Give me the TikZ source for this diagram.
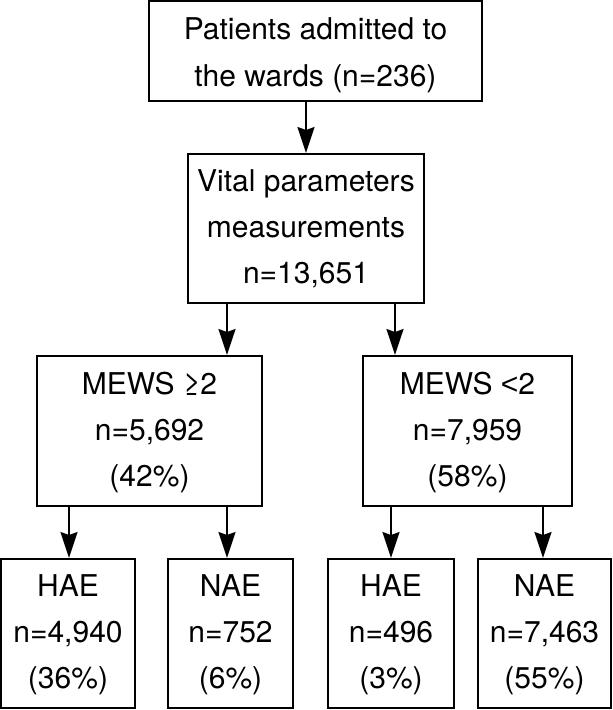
\documentclass[tikz,border=0pt]{standalone}
\usepackage{fontspec}
\setmainfont{TeX Gyre Heros}
\newfontfamily\libsans{Liberation Sans}
\usetikzlibrary{arrows.meta}
\newcommand{\mystrut}{\rule[-14pt]{0pt}{46pt}}
\newcommand{\topstrut}{\rule[-12pt]{0pt}{47pt}}
\begin{document}
\begin{tikzpicture}[x=1pt,y=-1pt,
  box/.style={draw, line width=2pt, inner sep=0pt, align=center,
    font=\fontsize{30}{46}\selectfont, anchor=center},
  arr/.style={line width=1.6pt, -{Stealth[length=26pt,width=17pt,inset=3pt]}}]
\useasboundingbox (0,0) rectangle (613,710);

\node[box, font=\fontsize{30}{47}\selectfont, minimum width=333pt, minimum height=100pt] (b1) at (315.5,51)
  {\topstrut Patients admitted to\\\topstrut the wards (n=236)};
\node[box, minimum width=236pt, minimum height=149pt] (b2) at (306,228.5)
  {\mystrut Vital parameters\\\mystrut measurements\\\mystrut n=13,651};
\node[box, minimum width=225pt, minimum height=150pt] (b3) at (149.5,431)
  {\mystrut MEWS ≥2\\\mystrut n=5,692\\\mystrut (42\%)};
\node[box, minimum width=209pt, minimum height=150pt] (b4) at (467.5,431)
  {\mystrut MEWS {\libsans <}2\\\mystrut n=7,959\\\mystrut (58\%)};
\node[box, minimum width=134pt, minimum height=149pt] (h1) at (68,633.5)
  {\mystrut HAE\\\mystrut n=4,940\\\mystrut (36\%)};
\node[box, minimum width=125pt, minimum height=149pt] (n1) at (230.5,633.5)
  {\mystrut NAE\\\mystrut n=752\\\mystrut (6\%)};
\node[box, minimum width=126pt, minimum height=149pt] (h2) at (391,633.5)
  {\mystrut HAE\\\mystrut n=496\\\mystrut (3\%)};
\node[box, minimum width=133pt, minimum height=149pt] (n2) at (544.5,633.5)
  {\mystrut NAE\\\mystrut n=7,463\\\mystrut (55\%)};

\coordinate (xa) at (227,0);
\coordinate (xb) at (395,0);
\coordinate (xc) at (69,0);
\coordinate (xd) at (227,0);
\coordinate (xe) at (391,0);
\coordinate (xf) at (543,0);

\draw[arr] (b1.south -| b2.north) -- (b2.north);
\draw[arr] (b2.south -| xa) -- (b3.north -| xa);
\draw[arr] (b2.south -| xb) -- (b4.north -| xb);
\draw[arr] (b3.south -| xc) -- (h1.north -| xc);
\draw[arr] (b3.south -| xd) -- (n1.north -| xd);
\draw[arr] (b4.south -| xe) -- (h2.north -| xe);
\draw[arr] (b4.south -| xf) -- (n2.north -| xf);
\end{tikzpicture}
\end{document}
